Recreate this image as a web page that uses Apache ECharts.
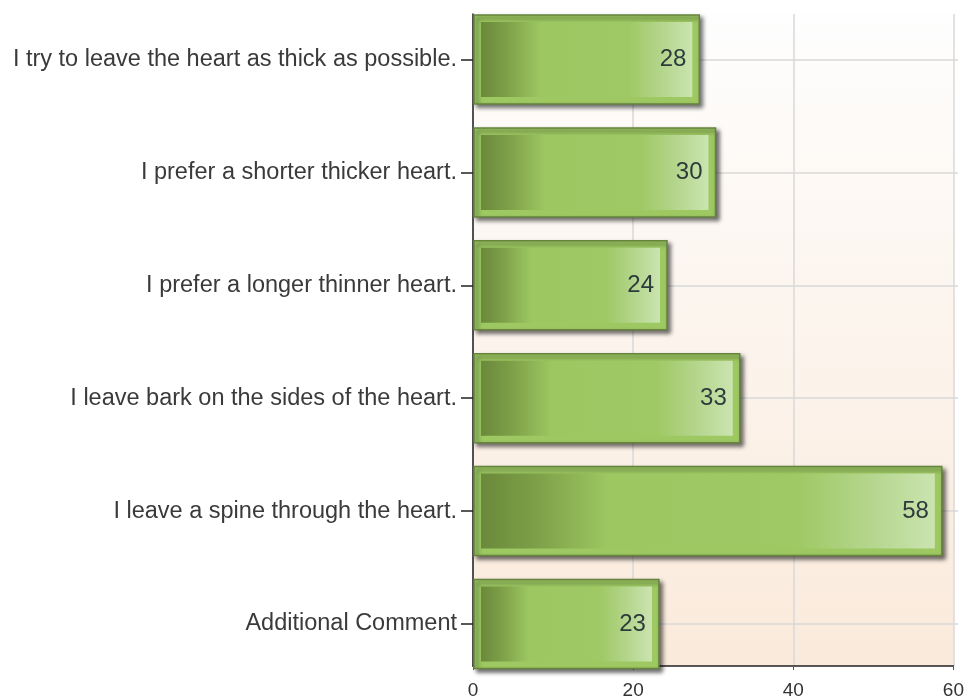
<!DOCTYPE html>
<html>
<head>
<meta charset="utf-8">
<script src="https://cdn.jsdelivr.net/npm/echarts@6/dist/echarts.min.js"></script>
<style>
  html, body { margin: 0; padding: 0; background: #ffffff; }
  #chart { width: 967px; height: 700px; }
</style>
</head>
<body>
<div id="chart"></div>
<script>
const categories = [
  'I try to leave the heart as thick as possible.',
  'I prefer a shorter thicker heart.',
  'I prefer a longer thinner heart.',
  'I leave bark on the sides of the heart.',
  'I leave a spine through the heart.',
  'Additional Comment'
];
const values = [28, 30, 24, 33, 58, 23];
const xMin = 0;
const xMax = 60;
const xInterval = 20;

const FONT = '"Liberation Sans", Arial, sans-serif';

const chart = echarts.init(document.getElementById('chart'), null, { renderer: 'canvas' });

function renderBar(params, api) {
  const v = api.value(0);
  const idx = api.value(1);
  const p0 = api.coord([0, idx]);
  const p1 = api.coord([v, idx]);
  const h = 89;
  const x0 = p0[0] + 1;
  const x1 = p1[0];
  const y = p0[1] - h / 2;
  const inset = 7;
  return {
    type: 'group',
    children: [
      {
        type: 'rect',
        shape: { x: x0, y: y, width: x1 - x0, height: h },
        style: {
          fill: '#9dc862',
          stroke: '#66843c',
          lineWidth: 1.5,
          shadowBlur: 4,
          shadowOffsetX: 3,
          shadowOffsetY: 3,
          shadowColor: 'rgba(0,0,0,0.55)'
        }
      },
      {
        type: 'rect',
        shape: { x: x0 + inset, y: y + inset, width: x1 - x0 - 2 * inset, height: h - 2 * inset },
        style: {
          fill: new echarts.graphic.LinearGradient(0, 0, 1, 0, [
            { offset: 0, color: '#6a893b' },
            { offset: 0.12, color: '#7d9f48' },
            { offset: 0.28, color: '#9cc761' },
            { offset: 0.7, color: '#9fc965' },
            { offset: 0.85, color: '#b3d58b' },
            { offset: 1, color: '#cbe4b0' }
          ])
        }
      },
      {
        type: 'text',
        style: {
          text: String(v),
          x: x1 - 13,
          y: p0[1],
          align: 'right',
          verticalAlign: 'middle',
          font: '24px ' + FONT,
          fill: '#2e3b3b'
        }
      }
    ]
  };
}

const option = {
  animation: false,
  backgroundColor: '#ffffff',
  grid: [
    {
      left: 473, right: 9, top: 14, bottom: 32,
      show: true,
      borderWidth: 0,
      backgroundColor: {
        type: 'linear', x: 0, y: 0, x2: 0, y2: 1,
        colorStops: [
          { offset: 0, color: '#fefefe' },
          { offset: 1, color: '#faeadb' }
        ]
      }
    },
    {
      left: 473, right: 9, top: 59.5, bottom: 76
    }
  ],
  xAxis: [
    {
      gridIndex: 0,
      type: 'value',
      min: xMin, max: xMax, interval: xInterval,
      axisLine: { show: true, lineStyle: { color: '#222', width: 1.5 } },
      axisTick: { show: true, length: 4, lineStyle: { color: '#555' } },
      axisLabel: { fontSize: 19, color: '#333', margin: 15, fontFamily: FONT },
      splitLine: { show: true, lineStyle: { color: '#d9d9d9', width: 1.5 } }
    },
    {
      gridIndex: 1,
      type: 'value',
      min: xMin, max: xMax, interval: xInterval,
      show: false
    }
  ],
  yAxis: [
    {
      gridIndex: 0,
      type: 'value',
      min: 0, max: 1,
      axisLine: { show: true, lineStyle: { color: '#222', width: 1.5 } },
      axisTick: { show: false },
      axisLabel: { show: false },
      splitLine: { show: false }
    },
    {
      gridIndex: 1,
      type: 'category',
      data: categories,
      inverse: true,
      boundaryGap: false,
      axisLine: { show: false },
      axisTick: { show: true, length: 12, lineStyle: { color: '#222', width: 1.5 } },
      axisLabel: { fontSize: 23.5, color: '#3a3a3a', margin: 16, fontFamily: FONT },
      splitLine: { show: true, lineStyle: { color: '#d9d9d9', width: 1.5 } }
    }
  ],
  series: [
    {
      type: 'custom',
      xAxisIndex: 1,
      yAxisIndex: 1,
      renderItem: renderBar,
      encode: { x: 0, y: 1 },
      data: values.map((v, i) => [v, i]),
      clip: false,
      z: 5
    }
  ]
};

chart.setOption(option);
</script>
</body>
</html>
